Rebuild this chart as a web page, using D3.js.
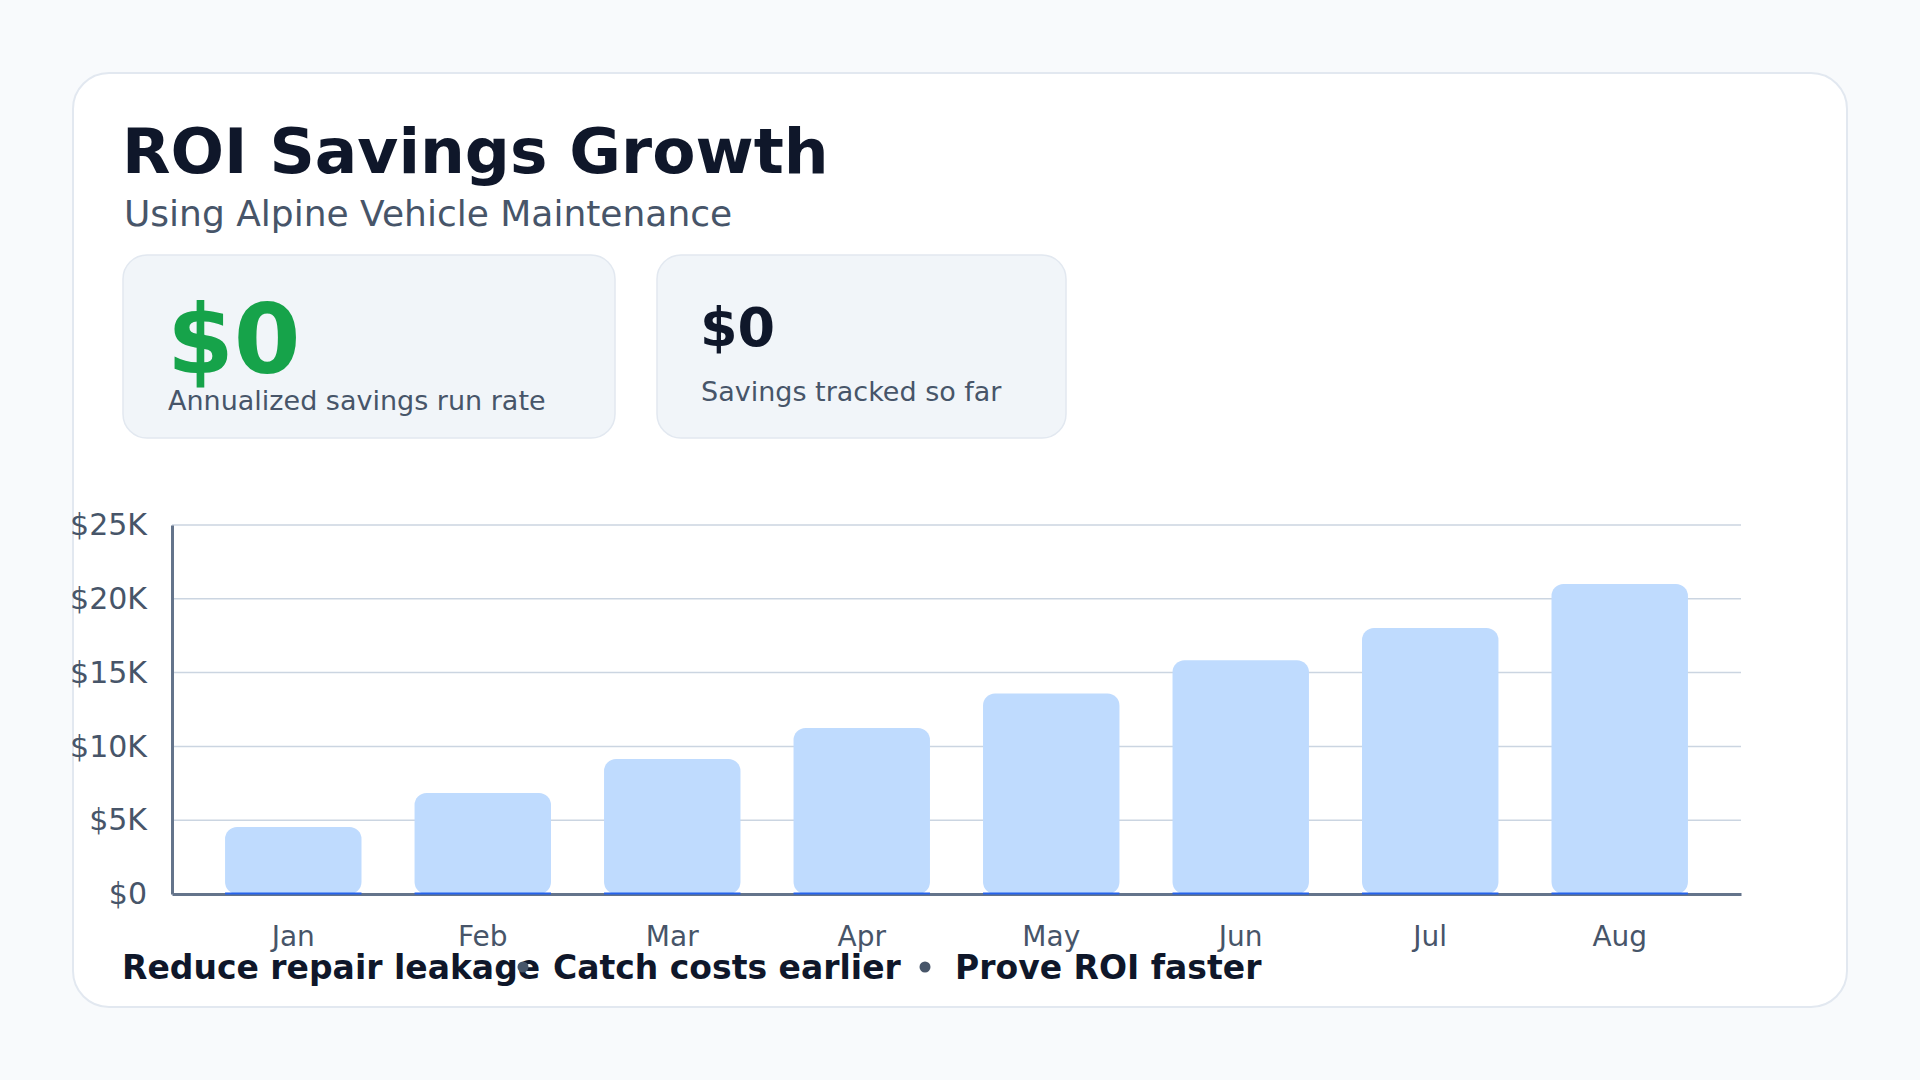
<!DOCTYPE html>
<html>
<head>
    <meta charset="UTF-8">
    <title>ROI Savings Growth</title>
    <script src="https://d3js.org/d3.v7.min.js"></script>
    <style>
        body { margin: 0; background: #f8fafc; }
        svg { display: block; font-family: "DejaVu Sans", sans-serif; }
    </style>
</head>
<body>
<svg width="1920" height="1080"></svg>
<script>
    // data
    var months = ["Jan", "Feb", "Mar", "Apr", "May", "Jun", "Jul", "Aug"];
    var projectedSavings = [4540, 6840, 9150, 11250, 13580, 15840, 18020, 21000];
    var trackedSavings = [0, 0, 0, 0, 0, 0, 0, 0];
    var yTicks = [0, 5000, 10000, 15000, 20000, 25000];
    var kpiValues = ["$0", "$0"];
    var kpiLabels = ["Annualized savings run rate", "Savings tracked so far"];
    var footerItems = ["Reduce repair leakage", "Catch costs earlier", "Prove ROI faster"];

    var svg = d3.select("svg");

    // background + card
    svg.append("rect").attr("width", 1920).attr("height", 1080).attr("fill", "#f8fafc");
    svg.append("rect")
        .attr("x", 73).attr("y", 73)
        .attr("width", 1774).attr("height", 934)
        .attr("rx", 36)
        .attr("fill", "#ffffff")
        .attr("stroke", "#e2e8f0")
        .attr("stroke-width", 2);

    // title
    svg.append("text")
        .attr("x", 122).attr("y", 173)
        .attr("font-size", 63).attr("font-weight", "bold")
        .attr("fill", "#0f172a")
        .text("ROI Savings Growth");
    svg.append("text")
        .attr("x", 124).attr("y", 226)
        .attr("font-size", 36)
        .attr("fill", "#475569")
        .text("Using Alpine Vehicle Maintenance");

    // kpi cards
    var kpiBoxes = [
        {x: 123, w: 492, pad: 44, size: 96, color: "#16a34a", valueY: 373, labelY: 410},
        {x: 657, w: 409, pad: 43, size: 54, color: "#0f172a", valueY: 346, labelY: 401}
    ];
    var kpi = svg.selectAll(".kpi")
        .data(kpiBoxes)
        .enter()
        .append("g")
        .attr("class", "kpi");
    kpi.append("rect")
        .attr("x", function (d) { return d.x; })
        .attr("y", 255)
        .attr("width", function (d) { return d.w; })
        .attr("height", 183)
        .attr("rx", 24)
        .attr("fill", "#f1f5f9")
        .attr("stroke", "#e2e8f0")
        .attr("stroke-width", 1.5);
    kpi.append("text")
        .attr("x", function (d) { return d.x + d.pad; })
        .attr("y", function (d) { return d.valueY; })
        .attr("font-size", function (d) { return d.size; })
        .attr("font-weight", "bold")
        .attr("fill", function (d) { return d.color; })
        .text(function (d, i) { return kpiValues[i]; });
    kpi.append("text")
        .attr("x", function (d) { return d.x + d.pad + 1; })
        .attr("y", function (d) { return d.labelY; })
        .attr("font-size", 27)
        .attr("fill", "#475569")
        .text(function (d, i) { return kpiLabels[i]; });

    // chart
    var plot = {left: 172, right: 1741, top: 525, bottom: 894};

    var xScale = d3.scaleBand()
        .domain(months)
        .range([plot.left, plot.right])
        .padding(0.28);
    var yScale = d3.scaleLinear()
        .domain([0, 25000])
        .range([plot.bottom, plot.top]);

    // gridlines
    svg.append("g")
        .selectAll("line")
        .data(yTicks.slice(1))
        .enter()
        .append("line")
        .attr("x1", plot.left).attr("x2", plot.right)
        .attr("y1", function (d) { return yScale(d); })
        .attr("y2", function (d) { return yScale(d); })
        .attr("stroke", "#cbd5e1")
        .attr("stroke-width", 1.5);

    var yAxis = d3.axisLeft(yScale)
        .tickValues(yTicks)
        .tickSize(0)
        .tickPadding(25)
        .tickFormat(function (d) { return d === 0 ? "$0" : "$" + (d / 1000) + "K"; });
    var gy = svg.append("g")
        .attr("transform", "translate(" + plot.left + ",0)")
        .call(yAxis);
    gy.select(".domain").attr("stroke", "#64748b").attr("stroke-width", 3);
    gy.selectAll("text")
        .attr("font-family", "DejaVu Sans")
        .attr("font-size", 30)
        .attr("fill", "#475569");

    var xAxis = d3.axisBottom(xScale)
        .tickSize(0)
        .tickPadding(32);
    var gx = svg.append("g")
        .attr("transform", "translate(0," + plot.bottom + ")")
        .call(xAxis);
    gx.select(".domain").attr("stroke", "#64748b").attr("stroke-width", 3);
    gx.selectAll("text")
        .attr("font-family", "DejaVu Sans")
        .attr("font-size", 28)
        .attr("fill", "#475569");

    // projected bars
    svg.append("g")
        .selectAll("rect")
        .data(projectedSavings)
        .enter()
        .append("rect")
        .attr("x", function (d, i) { return xScale(months[i]); })
        .attr("y", function (d) { return yScale(d); })
        .attr("width", xScale.bandwidth())
        .attr("height", function (d) { return yScale(0) - yScale(d); })
        .attr("rx", 12)
        .attr("fill", "#bfdbfe");

    // tracked bars (all zero so far, shown as a thin line)
    svg.append("g")
        .selectAll("rect")
        .data(trackedSavings)
        .enter()
        .append("rect")
        .attr("x", function (d, i) { return xScale(months[i]); })
        .attr("y", function (d) { return yScale(d) - 1.5; })
        .attr("width", xScale.bandwidth())
        .attr("height", function (d) { return yScale(0) - yScale(d) + 2; })
        .attr("fill", "#2563eb");

    // footer
    var footerX = [122, 553, 955];
    var bulletX = [523, 925];
    svg.append("g")
        .selectAll("text")
        .data(footerItems)
        .enter()
        .append("text")
        .attr("x", function (d, i) { return footerX[i]; })
        .attr("y", 979)
        .attr("font-size", 33)
        .attr("font-weight", "bold")
        .attr("fill", "#0f172a")
        .text(function (d) { return d; });
    svg.append("g")
        .selectAll("circle")
        .data(bulletX)
        .enter()
        .append("circle")
        .attr("cx", function (d) { return d; })
        .attr("cy", 967)
        .attr("r", 5.5)
        .attr("fill", "#475569");
</script>
</body>
</html>
